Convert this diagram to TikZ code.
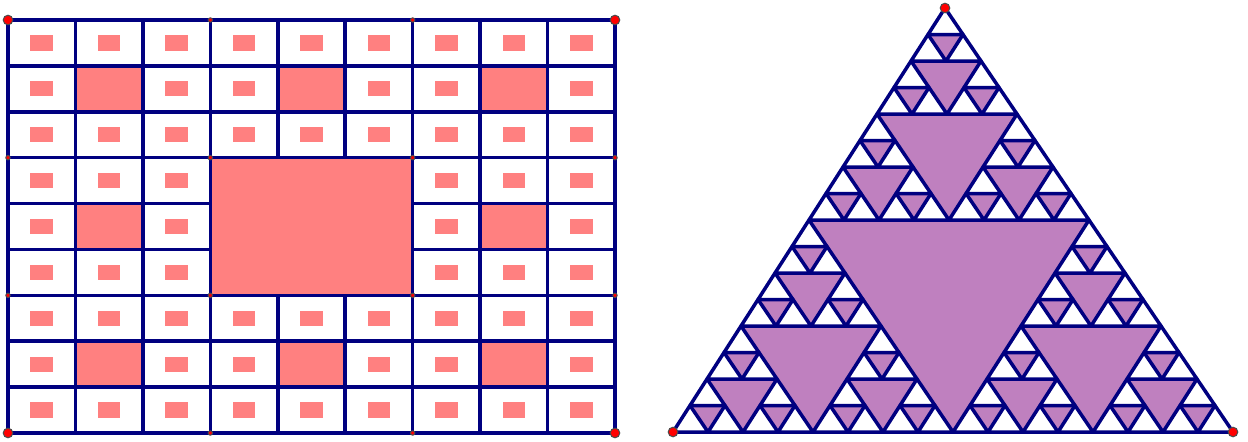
\documentclass[tikz,border=0pt]{standalone}
\definecolor{lineblue}{RGB}{0,0,128}
\definecolor{salmon}{RGB}{255,128,128}
\definecolor{lilac}{RGB}{191,128,191}

\begin{document}
\begin{tikzpicture}[x=0.5pt,y=-0.5pt,
    wire/.style={lineblue,line width=1.75pt,line join=round},
    spot/.style={fill=red,draw=black!70,line width=0.5pt}]
\useasboundingbox (0,0) rectangle (1248,441);
% carpet
\begin{scope}[shift={(8,20)},x={(33.722pt,0pt)},y={(0pt,-22.944pt)}]
    \foreach \c in {0,...,8} \foreach \r in {0,...,8}
        \fill[salmon] (\c+1/3,\r+1/3) rectangle (\c+2/3,\r+2/3);
    \foreach \c in {1,4,7} \foreach \r in {1,4,7}
        \fill[salmon] (\c,\r) rectangle ++(1,1);
    \foreach \k in {0,...,9} {
        \draw[wire] (\k,0)--(\k,9);
        \draw[wire] (0,\k)--(9,\k);
    }
    \fill[salmon] (3,3) rectangle (6,6);
    \draw[wire] (3,3) rectangle (6,6);
    \foreach \k in {0,...,3} \foreach \l in {0,...,3}
        \fill[spot] (3*\k,3*\l) circle (1.1pt);
    \foreach \k/\l in {0/0,9/0,0/9,9/9}
        \fill[spot] (\k,\l) circle (2.4pt);
\end{scope}
% gasket
\begin{scope}[shift={(673,432)},x={(280pt,0pt)},y={(136pt,212pt)}]
    \fill[lilac] (0.5,0)--(0,0.5)--(0.5,0.5)--cycle;
    \foreach \ax/\ay in {0/0,0.5/0,0/0.5}
        \fill[lilac] (\ax+1/4,\ay)--(\ax,\ay+1/4)--(\ax+1/4,\ay+1/4)--cycle;
    \foreach \ax/\ay in {0/0,0.5/0,0/0.5} \foreach \bx/\by in {0/0,0.25/0,0/0.25}
        \fill[lilac] (\ax+\bx+1/8,\ay+\by)--(\ax+\bx,\ay+\by+1/8)--(\ax+\bx+1/8,\ay+\by+1/8)--cycle;
    \foreach \ax/\ay in {0/0,0.5/0,0/0.5} \foreach \bx/\by in {0/0,0.25/0,0/0.25}
        \foreach \cx/\cy in {0/0,0.125/0,0/0.125}
            \fill[lilac] (\ax+\bx+\cx+1/16,\ay+\by+\cy)--(\ax+\bx+\cx,\ay+\by+\cy+1/16)--(\ax+\bx+\cx+1/16,\ay+\by+\cy+1/16)--cycle;
    \foreach \ax/\ay in {0/0,0.5/0,0/0.5} \foreach \bx/\by in {0/0,0.25/0,0/0.25}
        \foreach \cx/\cy in {0/0,0.125/0,0/0.125} \foreach \dx/\dy in {0/0,0.0625/0,0/0.0625}
            \draw[wire] (\ax+\bx+\cx+\dx,\ay+\by+\cy+\dy)--++(1/16,0)--++(-1/16,1/16)--cycle;
    \foreach \p in {(0,0),(1,0),(0,1)}
        \fill[spot] \p circle (2.4pt);
\end{scope}
\end{tikzpicture}
\end{document}
